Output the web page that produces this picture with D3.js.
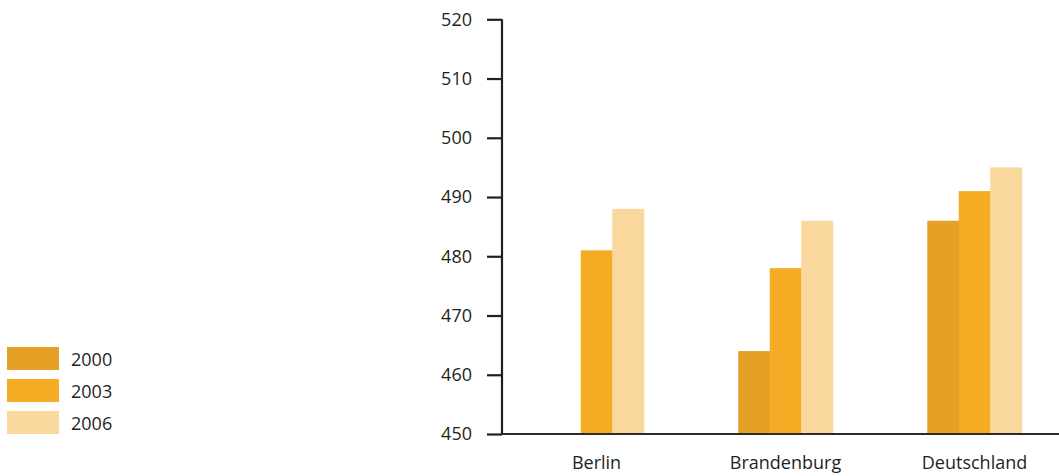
<!DOCTYPE html>
<html>
<head>
<meta charset="utf-8">
<script src="https://cdn.jsdelivr.net/npm/d3@7"></script>
<style>
  html, body { margin: 0; padding: 0; background: #fff; }
  svg { display: block; }
  text { font-family: "Open Sans", "Noto Sans", sans-serif; fill: #231f20; }
</style>
</head>
<body>
<svg id="chart" width="1059" height="476"></svg>
<script>
// Regions along the x axis
const categories = ["Berlin", "Brandenburg", "Deutschland"];
// Survey years shown as bars in each group
const years = ["2000", "2003", "2006"];
// Scores per year, in category order (null = no value)
const values2000 = [null, 464, 486];
const values2003 = [481, 478, 491];
const values2006 = [488, 486, 495];
// Y axis tick values
const yTicks = [450, 460, 470, 480, 490, 500, 510, 520];
const colors = ["#e5a125", "#f5ac25", "#fad79c"];

const series = [values2000, values2003, values2006];
const fontSize = 18;

const svg = d3.select("#chart");
const axisX = 502, axisTop = 19.3, axisBottom = 434;

const y = d3.scaleLinear().domain([450, 520]).range([axisBottom, axisTop]);
const x0 = d3.scaleBand().domain(categories).range([axisX, axisX + 567])
  .paddingInner(0.5).paddingOuter(0.25);
const x1 = d3.scaleBand().domain(years).range([0, x0.bandwidth()]);
const color = d3.scaleOrdinal().domain(years).range(colors);

// Bars
const groups = svg.append("g").selectAll("g")
  .data(categories)
  .join("g")
  .attr("transform", d => `translate(${x0(d)},0)`);

groups.selectAll("rect")
  .data((c, i) => years.map((yr, k) => ({ year: yr, value: series[k][i] }))
    .filter(d => d.value != null))
  .join("rect")
  .attr("x", d => x1(d.year))
  .attr("width", x1.bandwidth() + 0.5)
  .attr("y", d => y(d.value))
  .attr("height", d => y(450) - y(d.value))
  .attr("fill", d => color(d.year));

// Y axis
const yAxis = d3.axisLeft(y).tickValues(yTicks).tickSize(15).tickPadding(15);
const gy = svg.append("g").attr("transform", `translate(${axisX},0)`).call(yAxis);
gy.select(".domain").attr("stroke", "#231f20").attr("stroke-width", 2.2)
  .attr("d", `M0,${axisTop}V${axisBottom}`);
gy.selectAll(".tick line").attr("stroke", "#231f20").attr("stroke-width", 2.2);
gy.selectAll(".tick text").attr("font-size", fontSize).attr("fill", "#231f20")
  .style("font-family", "'Open Sans', sans-serif");

// X baseline and category labels
svg.append("line")
  .attr("x1", axisX).attr("x2", 1059)
  .attr("y1", axisBottom).attr("y2", axisBottom)
  .attr("stroke", "#2b2b2b").attr("stroke-width", 2.2);

svg.append("g").selectAll("text")
  .data(categories)
  .join("text")
  .attr("x", d => x0(d) + x0.bandwidth() / 2)
  .attr("y", 469)
  .attr("text-anchor", "middle")
  .attr("font-size", fontSize)
  .text(d => d);

// Legend
const legend = svg.append("g").selectAll("g")
  .data(years)
  .join("g")
  .attr("transform", (d, i) => `translate(7,${347 + i * 32})`);
legend.append("rect").attr("width", 52).attr("height", 23).attr("fill", d => color(d));
legend.append("text").attr("x", 64).attr("y", 19).attr("font-size", fontSize).text(d => d);
</script>
</body>
</html>
